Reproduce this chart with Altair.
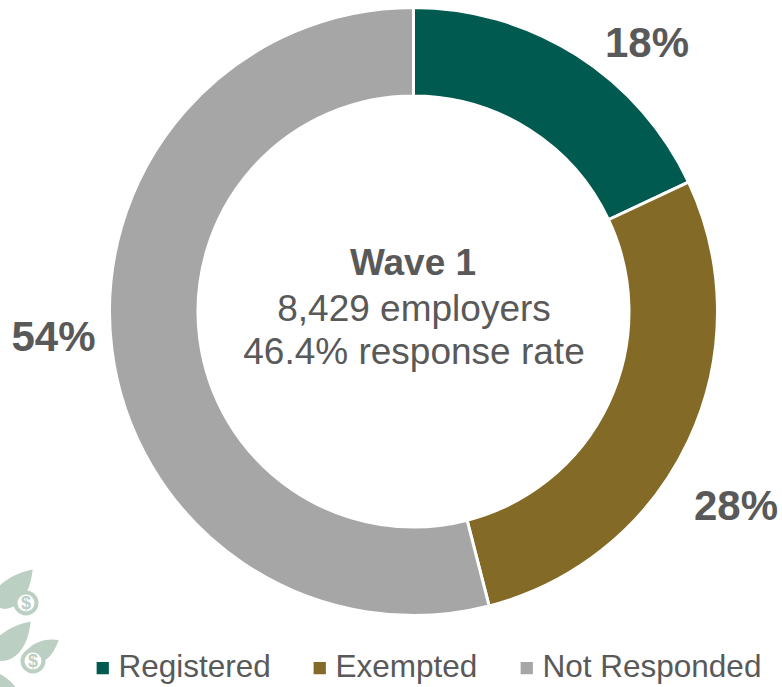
import altair as alt
import pandas as pd

# Share of employers by registration status
statuses = ["Registered", "Exempted", "Not Responded"]
shares = [18, 28, 54]
share_labels = ["18%", "28%", "54%"]
slice_colors = ["#005A4F", "#846A27", "#A6A6A6"]
center_lines = ["Wave 1", "8,429 employers", "46.4% response rate"]

TEXT_COLOR = "#595959"
FONT = "Liberation Sans"
SAGE = "#BBCFC3"
CX, CY = 413.5, 311.5

data = pd.DataFrame({"status": statuses, "share": shares,
                     "rank": list(range(len(statuses)))})

ring = (
    alt.Chart(data)
    .mark_arc(outerRadius=304, innerRadius=215.5, stroke="white", strokeWidth=3)
    .encode(
        x=alt.value(CX),
        y=alt.value(CY),
        theta=alt.Theta("share:Q", stack=True, scale=alt.Scale(domain=[0, 100], range=[0, 6.28318531])),
        order=alt.Order("rank:Q"),
        color=alt.Color(
            "status:N",
            scale=alt.Scale(domain=statuses, range=slice_colors),
            sort=statuses,
            legend=alt.Legend(
                title=None,
                orient="none",
                legendX=87,
                legendY=652,
                direction="horizontal",
                columns=3,
                symbolType="square",
                symbolSize=150,
                symbolStrokeWidth=0,
                labelFont=FONT,
                labelFontSize=31.5,
                labelColor=TEXT_COLOR,
                labelOffset=0,
                columnPadding=33,
                labelLimit=400,
                symbolLimit=0,
            ),
        ),
    )
)


def text_at(label, x, y, size, bold=False):
    """One line of text placed at a pixel position of the plot."""
    return (
        alt.Chart(pd.DataFrame({"t": [label]}))
        .mark_text(font=FONT, fontSize=size, fontWeight="bold" if bold else "normal",
                   color=TEXT_COLOR, align="center", baseline="middle")
        .encode(x=alt.value(x), y=alt.value(y), text="t:N")
    )


def leaf(x, y, size, path):
    """Decorative leaf drawn as a custom symbol."""
    return (
        alt.Chart(pd.DataFrame({"k": [0]}))
        .mark_point(shape=path, filled=True, fill=SAGE, strokeWidth=0, opacity=1, size=size)
        .encode(x=alt.value(x), y=alt.value(y))
    )


def coin(x, y):
    """Decorative coin with a dollar sign."""
    disc = (
        alt.Chart(pd.DataFrame({"k": [0]}))
        .mark_point(shape="circle", filled=True, fill="white", stroke=SAGE, strokeWidth=4,
                    opacity=1, size=440)
        .encode(x=alt.value(x), y=alt.value(y))
    )
    sign = (
        alt.Chart(pd.DataFrame({"t": ["$"]}))
        .mark_text(font=FONT, fontSize=18, fontWeight="bold", color=SAGE,
                   align="center", baseline="middle")
        .encode(x=alt.value(x), y=alt.value(y + 0.5), text="t:N")
    )
    return disc + sign


LEAF_UP = "M1,-1 C0.5,-0.9 -0.5,-0.6 -1,0.3 C-1,0.7 -0.6,1 -0.2,0.9 C0.5,0.7 0.9,0 1,-1Z"
LEAF_FLAT = "M1,-0.6 C0.4,-0.7 -0.4,-0.6 -1,0.1 C-0.8,0.5 -0.4,0.8 0,0.7 C0.5,0.5 0.8,0 1,-0.6Z"

sprig = (
    leaf(12, 590, 1700, LEAF_UP)
    + leaf(10, 642, 1700, LEAF_UP)
    + leaf(42, 650, 1100, LEAF_FLAT)
    + leaf(6, 690, 1500, "M-1,-1 C-0.2,-1 0.8,-0.2 1,1 L-1,1Z")
    + coin(26, 603)
    + coin(33, 661)
)

chart = (
    alt.layer(
        sprig,
        ring,
        text_at(share_labels[0], 647, 44, 42, True),
        text_at(share_labels[1], 736, 507, 42, True),
        text_at(share_labels[2], 53.5, 338, 42, True),
        text_at(center_lines[0], 413, 264, 37, True),
        text_at(center_lines[1], 414, 310, 37),
        text_at(center_lines[2], 414, 353, 37),
    )
    .properties(width=782, height=687, padding=0, autosize=alt.AutoSizeParams(type="none"),
                background="white")
    .configure_view(stroke=None)
)

chart.save("out.html", embed_options={"renderer": "svg", "actions": False})
